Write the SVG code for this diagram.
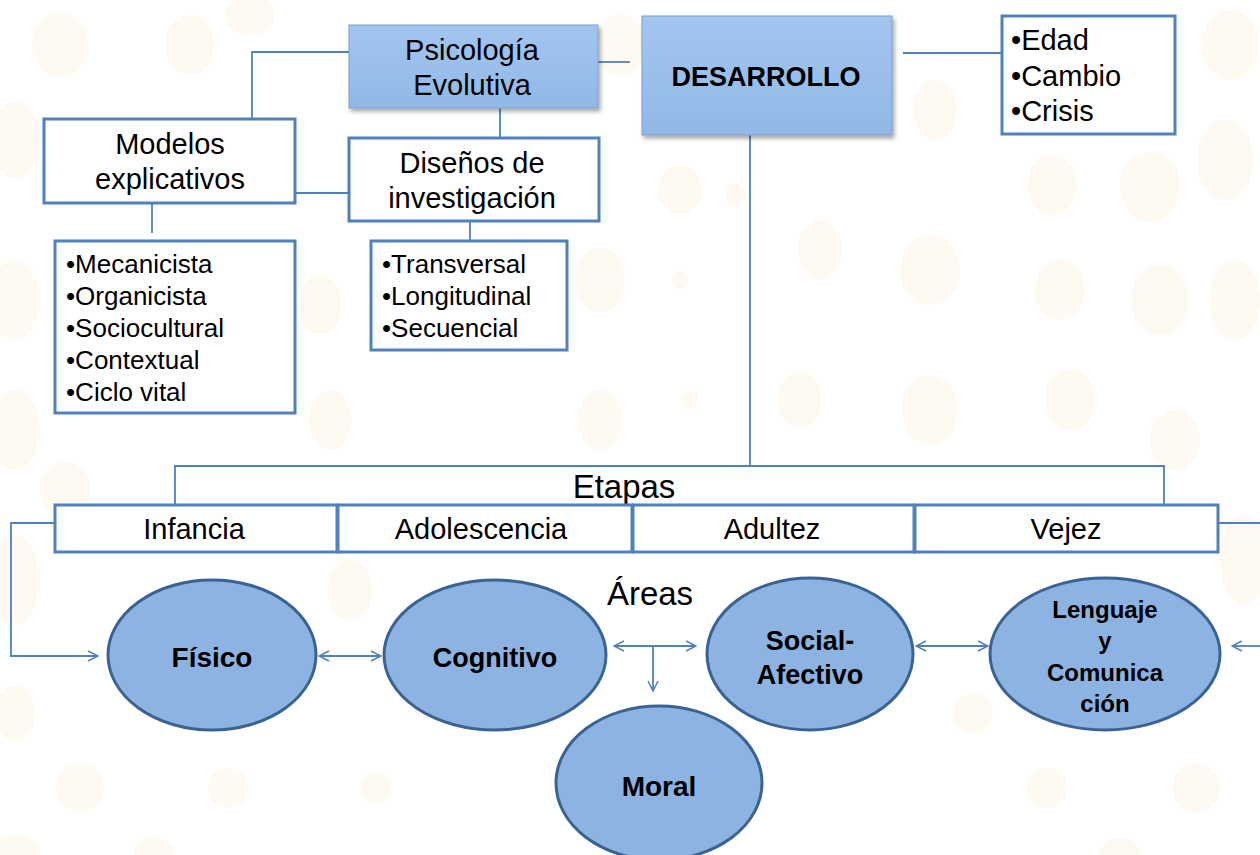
<svg xmlns="http://www.w3.org/2000/svg" width="1260" height="855" viewBox="0 0 1260 855">
<style>
  .t{font-family:"Liberation Sans",Arial,sans-serif;fill:#000;}
  .c{text-anchor:middle;}
  .b{font-weight:bold;}
  .box{fill:#fff;stroke:#4f81bd;stroke-width:3;}
  .hdr{fill:url(#g);stroke:#7f9fc6;stroke-width:1;}
  .ell{fill:#8db3e2;stroke:#3a6392;stroke-width:3;}
  .ln{fill:none;stroke:#4f81bd;stroke-width:1.8;}
  .dot{fill:#fef9f1;}
</style>
<defs>
  <linearGradient id="g" x1="0" y1="0" x2="0" y2="1">
    <stop offset="0" stop-color="#a3c6f0"/>
    <stop offset="1" stop-color="#91b8e6"/>
  </linearGradient>
  <filter id="sh" x="-10%" y="-10%" width="125%" height="130%">
    <feDropShadow dx="2" dy="3" stdDeviation="2" flood-color="#000" flood-opacity="0.35"/>
  </filter>
  <marker id="ah" viewBox="0 0 12 12" refX="11" refY="6" markerWidth="12" markerHeight="12" markerUnits="userSpaceOnUse" orient="auto-start-reverse">
    <path d="M1,1 L11,6 L1,11" fill="none" stroke="#4f81bd" stroke-width="1.5"/>
  </marker>
</defs>
<rect width="1260" height="855" fill="#fff"/>
<g id="background">
  <ellipse class="dot" cx="60" cy="45" rx="28" ry="32"/>
  <ellipse class="dot" cx="190" cy="45" rx="25" ry="30"/>
  <ellipse class="dot" cx="250" cy="15" rx="25" ry="20"/>
  <ellipse class="dot" cx="620" cy="45" rx="25" ry="30"/>
  <ellipse class="dot" cx="1230" cy="45" rx="28" ry="35"/>
  <ellipse class="dot" cx="15" cy="140" rx="25" ry="38"/>
  <ellipse class="dot" cx="240" cy="160" rx="25" ry="32"/>
  <ellipse class="dot" cx="935" cy="110" rx="22" ry="30"/>
  <ellipse class="dot" cx="1052" cy="185" rx="25" ry="30"/>
  <ellipse class="dot" cx="1150" cy="187" rx="30" ry="35"/>
  <ellipse class="dot" cx="1225" cy="160" rx="28" ry="40"/>
  <ellipse class="dot" cx="680" cy="190" rx="22" ry="25"/>
  <ellipse class="dot" cx="735" cy="195" rx="10" ry="12"/>
  <ellipse class="dot" cx="15" cy="300" rx="25" ry="40"/>
  <ellipse class="dot" cx="320" cy="305" rx="22" ry="30"/>
  <ellipse class="dot" cx="600" cy="280" rx="25" ry="32"/>
  <ellipse class="dot" cx="680" cy="280" rx="8" ry="9"/>
  <ellipse class="dot" cx="820" cy="250" rx="22" ry="30"/>
  <ellipse class="dot" cx="930" cy="270" rx="30" ry="35"/>
  <ellipse class="dot" cx="1060" cy="290" rx="25" ry="30"/>
  <ellipse class="dot" cx="1160" cy="300" rx="28" ry="35"/>
  <ellipse class="dot" cx="1235" cy="300" rx="25" ry="40"/>
  <ellipse class="dot" cx="15" cy="430" rx="25" ry="40"/>
  <ellipse class="dot" cx="330" cy="420" rx="22" ry="30"/>
  <ellipse class="dot" cx="600" cy="420" rx="22" ry="30"/>
  <ellipse class="dot" cx="690" cy="400" rx="8" ry="9"/>
  <ellipse class="dot" cx="800" cy="400" rx="22" ry="28"/>
  <ellipse class="dot" cx="930" cy="410" rx="28" ry="35"/>
  <ellipse class="dot" cx="1070" cy="400" rx="25" ry="30"/>
  <ellipse class="dot" cx="1175" cy="440" rx="25" ry="30"/>
  <ellipse class="dot" cx="15" cy="580" rx="25" ry="45"/>
  <ellipse class="dot" cx="65" cy="490" rx="25" ry="28"/>
  <ellipse class="dot" cx="350" cy="590" rx="22" ry="30"/>
  <ellipse class="dot" cx="1245" cy="560" rx="25" ry="45"/>
  <ellipse class="dot" cx="15" cy="713" rx="20" ry="28"/>
  <ellipse class="dot" cx="80" cy="788" rx="24" ry="24"/>
  <ellipse class="dot" cx="228" cy="788" rx="20" ry="20"/>
  <ellipse class="dot" cx="376" cy="788" rx="15" ry="15"/>
  <ellipse class="dot" cx="973" cy="713" rx="20" ry="20"/>
  <ellipse class="dot" cx="1047" cy="788" rx="20" ry="20"/>
  <ellipse class="dot" cx="1196" cy="788" rx="24" ry="24"/>
  <ellipse class="dot" cx="15" cy="855" rx="25" ry="20"/>
  <ellipse class="dot" cx="154" cy="855" rx="20" ry="18"/>
  <ellipse class="dot" cx="1120" cy="855" rx="20" ry="18"/>
</g>
<g id="connectors">
  <polyline class="ln" points="349,52 252,52 252,118"/>
  <line class="ln" x1="598" y1="62" x2="630" y2="62"/>
  <line class="ln" x1="903" y1="53" x2="1001" y2="53"/>
  <line class="ln" x1="500" y1="108" x2="500" y2="137"/>
  <line class="ln" x1="295" y1="193" x2="348" y2="193"/>
  <line class="ln" x1="152" y1="203" x2="152" y2="233"/>
  <line class="ln" x1="470" y1="221" x2="470" y2="240"/>
  <line class="ln" x1="750" y1="135" x2="750" y2="466"/>
  <polyline class="ln" points="175,505 175,466 1164,466 1164,505"/>
  <polyline class="ln" points="55,523 11,523 11,656 98,656" marker-end="url(#ah)"/>
  <line class="ln" x1="1218" y1="523" x2="1260" y2="523"/>
  <line class="ln" x1="1260" y1="646" x2="1232" y2="646" marker-end="url(#ah)"/>
  <line class="ln" x1="319" y1="656" x2="381" y2="656" marker-start="url(#ah)" marker-end="url(#ah)"/>
  <line class="ln" x1="614" y1="646" x2="696" y2="646" marker-start="url(#ah)" marker-end="url(#ah)"/>
  <line class="ln" x1="653" y1="646" x2="653" y2="691" marker-end="url(#ah)"/>
  <line class="ln" x1="916" y1="646" x2="988" y2="646" marker-start="url(#ah)" marker-end="url(#ah)"/>
</g>
<g id="psicologia">
  <rect class="hdr" x="349" y="25" width="249" height="83" filter="url(#sh)"/>
  <text class="t c" x="472" y="60" font-size="29">Psicología</text>
  <text class="t c" x="472" y="95" font-size="29">Evolutiva</text>
</g>
<g id="desarrollo">
  <rect class="hdr" x="642" y="16" width="250" height="119" filter="url(#sh)"/>
  <text class="t c b" x="766" y="86" font-size="27">DESARROLLO</text>
</g>
<g id="edad">
  <rect class="box" x="1002" y="16" width="173" height="118"/>
  <text class="t" x="1011" y="50" font-size="29">•Edad</text>
  <text class="t" x="1011" y="86" font-size="29">•Cambio</text>
  <text class="t" x="1011" y="121" font-size="29">•Crisis</text>
</g>
<g id="modelos">
  <rect class="box" x="44" y="119" width="251" height="84"/>
  <text class="t c" x="170" y="154" font-size="29">Modelos</text>
  <text class="t c" x="170" y="189" font-size="29">explicativos</text>
</g>
<g id="disenos">
  <rect class="box" x="349" y="138" width="250" height="83"/>
  <text class="t c" x="472" y="173" font-size="29">Diseños de</text>
  <text class="t c" x="472" y="208" font-size="29">investigación</text>
</g>
<g id="modelos-lista">
  <rect class="box" x="55" y="241" width="240" height="172"/>
  <text class="t" x="66" y="273" font-size="26">•Mecanicista</text>
  <text class="t" x="66" y="305" font-size="26">•Organicista</text>
  <text class="t" x="66" y="337" font-size="26">•Sociocultural</text>
  <text class="t" x="66" y="369" font-size="26">•Contextual</text>
  <text class="t" x="66" y="401" font-size="26">•Ciclo vital</text>
</g>
<g id="disenos-lista">
  <rect class="box" x="371" y="241" width="196" height="109"/>
  <text class="t" x="382" y="273" font-size="26">•Transversal</text>
  <text class="t" x="382" y="305" font-size="26">•Longitudinal</text>
  <text class="t" x="382" y="337" font-size="26">•Secuencial</text>
</g>
<g id="etapas">
  <text class="t c" x="624" y="498" font-size="33">Etapas</text>
  <rect class="box" x="55" y="505" width="282" height="47"/>
  <text class="t c" x="194" y="539" font-size="29">Infancia</text>
  <rect class="box" x="338" y="505" width="294" height="47"/>
  <text class="t c" x="481" y="539" font-size="29">Adolescencia</text>
  <rect class="box" x="633" y="505" width="281" height="47"/>
  <text class="t c" x="772" y="539" font-size="29">Adultez</text>
  <rect class="box" x="915" y="505" width="303" height="47"/>
  <text class="t c" x="1066" y="539" font-size="29">Vejez</text>
</g>
<g id="areas">
  <text class="t c" x="650" y="605" font-size="33">Áreas</text>
</g>
<g id="fisico">
  <ellipse class="ell" cx="212" cy="655" rx="104" ry="75"/>
  <text class="t c b" x="212" y="667" font-size="28">Físico</text>
</g>
<g id="cognitivo">
  <ellipse class="ell" cx="495" cy="655" rx="111" ry="75"/>
  <text class="t c b" x="495" y="667" font-size="27">Cognitivo</text>
</g>
<g id="social">
  <ellipse class="ell" cx="810" cy="654" rx="103" ry="76"/>
  <text class="t c b" x="810" y="650" font-size="27">Social-</text>
  <text class="t c b" x="810" y="684" font-size="27">Afectivo</text>
</g>
<g id="lenguaje">
  <ellipse class="ell" cx="1105" cy="654" rx="115" ry="76"/>
  <text class="t c b" x="1105" y="618" font-size="24">Lenguaje</text>
  <text class="t c b" x="1105" y="649" font-size="24">y</text>
  <text class="t c b" x="1105" y="681" font-size="24">Comunica</text>
  <text class="t c b" x="1105" y="712" font-size="24">ción</text>
</g>
<g id="moral">
  <ellipse class="ell" cx="659" cy="783" rx="103" ry="77"/>
  <text class="t c b" x="659" y="796" font-size="28">Moral</text>
</g>
</svg>
